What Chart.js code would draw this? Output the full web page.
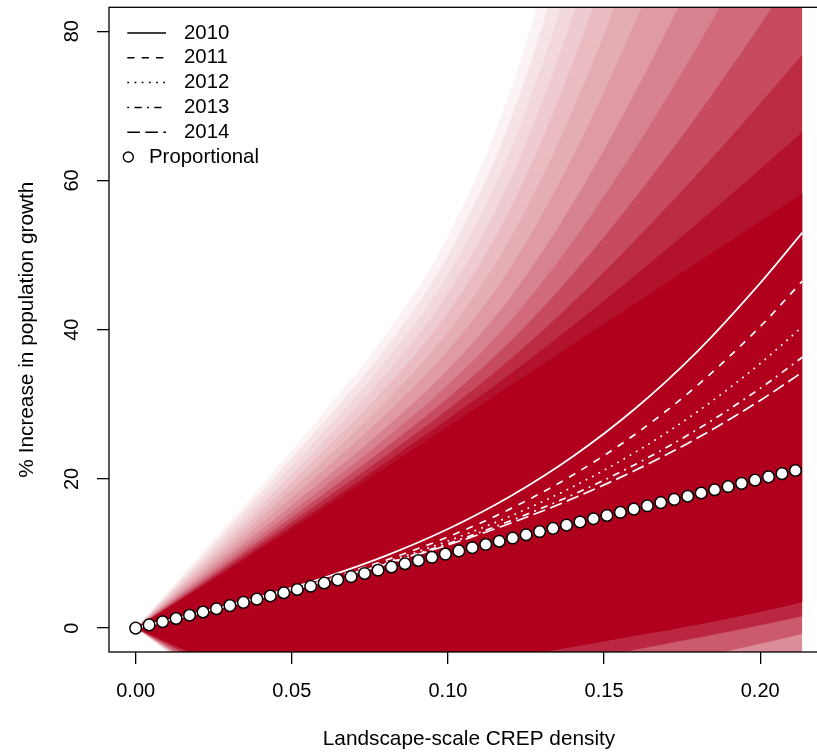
<!DOCTYPE html>
<html>
<head>
<meta charset="utf-8">
<script src="https://cdn.jsdelivr.net/npm/chart.js@4"></script>
<style>
  html, body { margin: 0; padding: 0; overflow: hidden; background: #fff; }
  canvas { display: block; }
</style>
</head>
<body>
<canvas id="crep" width="840" height="753"></canvas>
<script>
// ---- data -------------------------------------------------------------
// CREP density values at which the curves are evaluated
const densityGrid = [0, 0.02, 0.04, 0.06, 0.08, 0.10, 0.12, 0.14, 0.16, 0.18, 0.20, 0.2135];

// year-specific predicted % increase in population growth
const years = ['2010', '2011', '2012', '2013', '2014'];
const growth2010 = [0, 2.03, 4.21, 6.71, 9.68, 13.28, 17.67, 23.0, 29.43, 37.13, 46.24, 53.0];
const growth2011 = [0, 2.01, 4.12, 6.43, 9.09, 12.22, 15.98, 20.52, 25.99, 32.57, 40.41, 46.5];
const growth2012 = [0, 2.01, 4.09, 6.33, 8.82, 11.68, 15.01, 18.94, 23.57, 29.03, 35.46, 40.4];
const growth2013 = [0, 2.01, 4.07, 6.26, 8.65, 11.32, 14.37, 17.88, 21.94, 26.66, 32.13, 36.3];
const growth2014 = [0, 2.01, 4.06, 6.22, 8.56, 11.14, 14.05, 17.36, 21.15, 25.5, 30.51, 34.3];

// proportional-response reference points
const propDensity = [0, 0.00431, 0.00862, 0.01294, 0.01725, 0.02156, 0.02587, 0.03018, 0.0345, 0.03881,
  0.04312, 0.04743, 0.05174, 0.05606, 0.06037, 0.06468, 0.06899, 0.0733, 0.07762, 0.08193,
  0.08624, 0.09055, 0.09486, 0.09918, 0.10349, 0.1078, 0.11211, 0.11642, 0.12074, 0.12505,
  0.12936, 0.13367, 0.13798, 0.1423, 0.14661, 0.15092, 0.15523, 0.15954, 0.16386, 0.16817,
  0.17248, 0.17679, 0.1811, 0.18542, 0.18973, 0.19404, 0.19835, 0.20266, 0.20698, 0.21129];
const propGrowth = [0, 0.43, 0.86, 1.29, 1.73, 2.16, 2.59, 3.02, 3.45, 3.88,
  4.31, 4.74, 5.17, 5.61, 6.04, 6.47, 6.9, 7.33, 7.76, 8.19,
  8.62, 9.06, 9.49, 9.92, 10.35, 10.78, 11.21, 11.64, 12.07, 12.51,
  12.94, 13.37, 13.8, 14.23, 14.66, 15.09, 15.52, 15.95, 16.39, 16.82,
  17.25, 17.68, 18.11, 18.54, 18.97, 19.4, 19.84, 20.27, 20.7, 21.13];

// posterior draws summarised as density contours, from the sparse outer
// edge of the upper tail inwards
const fanUpper00 = [0, 9.5, 19, 28.8, 39.3, 52.5, 72, 101, 138, 181, 230, 266];
const fanUpper01 = [0, 9.07, 18.16, 27.52, 37.52, 49.95, 68.05, 94.7, 128.55, 167.8, 212.45, 245.2];
const fanUpper02 = [0, 8.64, 17.32, 26.24, 35.74, 47.4, 64.1, 88.4, 119.1, 154.6, 194.9, 224.4];
const fanUpper03 = [0, 8.21, 16.48, 24.96, 33.96, 44.85, 60.15, 82.1, 109.65, 141.4, 177.35, 203.7];
const fanUpper04 = [0, 7.78, 15.64, 23.68, 32.18, 42.3, 56.2, 75.8, 100.2, 128.2, 159.8, 182.9];
const fanUpper05 = [0, 7.35, 14.8, 22.4, 30.4, 39.75, 52.25, 69.5, 90.75, 115, 142.25, 162.1];
const fanUpper06 = [0, 6.92, 13.96, 21.12, 28.62, 37.2, 48.3, 63.2, 81.3, 101.8, 124.7, 141.3];
const fanUpper07 = [0, 6.49, 13.12, 19.84, 26.84, 34.65, 44.35, 56.9, 71.85, 88.6, 107.15, 120.5];
const fanUpper08 = [0, 6.15, 12.45, 18.82, 25.42, 32.61, 41.19, 51.86, 64.29, 78.04, 93.11, 103.9];
const fanUpper09 = [0, 5.85, 11.86, 17.92, 24.17, 30.83, 38.43, 47.45, 57.68, 68.8, 80.83, 89.4];
const fanUpper10 = [0, 5.59, 11.36, 17.15, 23.1, 29.3, 36.06, 43.67, 52.01, 60.88, 70.3, 76.9];
const fanUpper11 = [0, 5.37, 10.94, 16.51, 22.21, 28.02, 34.08, 40.52, 47.28, 54.28, 61.52, 66.5];
// dense core of the draws
const fanCoreHigh = [0, 5.2, 10.6, 16, 21.5, 27, 32.5, 38, 43.5, 49, 54.5, 58.2];
const fanCoreLow = [0, -3.6, -6, -6.2, -5.8, -5.0, -3.8, -2.5, -1.0, 0.5, 2.2, 3.5];
// lower tail, inner to outer
const fanLower1 = [0, -4.2, -7.4, -8, -7.8, -7, -5.8, -4.4, -2.9, -1.3, 0.4, 1.6];
const fanLower2 = [0, -4.8, -8.8, -10.5, -10.5, -9.8, -8.6, -7.2, -5.6, -3.9, -2.1, -0.8];
const fanLower3 = [0, -5.4, -10.5, -14, -14.5, -14, -13, -11.6, -10, -8.2, -6.2, -4.8];
const fanLower4 = [0, -6.2, -13, -18, -19, -19, -18, -17, -15.5, -14, -12, -10.5];

// ---- styling ----------------------------------------------------------
const FONT = '"Liberation Sans", Arial, Helvetica, sans-serif';
const RED = [176, 0, 30];
const yearDash = [[], [7.2, 7.2], [1.8, 5.4], [1.8, 5.4, 7.2, 5.4], [12.6, 5.4]];
// stacked layer opacities (one hue, so overlapping layers build up towards the core)
const upperLayerAlpha = [0.05, 0.063, 0.056, 0.06, 0.076, 0.082, 0.119, 0.153, 0.2, 0.3, 0.429, 0.625];
const lowerLayerAlpha = [0.57, 0.36, 0.31, 0.2];

Chart.defaults.font.family = FONT;
Chart.defaults.color = '#000';

const pts = (xs, ys) => xs.map((x, i) => ({ x, y: ys[i] }));
const red = a => `rgba(${RED[0]},${RED[1]},${RED[2]},${a})`;

const datasets = [];

// proportional points on top
datasets.push({
  label: 'Proportional',
  data: pts(propDensity, propGrowth),
  showLine: false,
  pointRadius: 5.8,
  pointBorderWidth: 1.5,
  pointBackgroundColor: '#fff',
  pointBorderColor: '#000',
  order: 0
});

// year curves
const yearSeries = [growth2010, growth2011, growth2012, growth2013, growth2014];
yearSeries.forEach((ys, i) => {
  datasets.push({
    label: years[i],
    data: pts(densityGrid, ys),
    borderColor: '#fff',
    borderWidth: 1.7,
    borderDash: yearDash[i],
    pointRadius: 0,
    fill: false,
    cubicInterpolationMode: 'monotone',
    order: 1
  });
});

// envelope layers
const envelope = (ys, fill, alpha) => ({
  label: '',
  data: pts(densityGrid, ys),
  borderWidth: 0,
  borderColor: 'rgba(0,0,0,0)',
  pointRadius: 0,
  cubicInterpolationMode: 'monotone',
  fill: fill,
  backgroundColor: red(alpha),
  order: 5
});

const coreLowIndex = datasets.length;
datasets.push(envelope(fanCoreLow, false, 0));
const coreHighIndex = datasets.length;
datasets.push(envelope(fanCoreHigh, { target: coreLowIndex }, 1));

[fanUpper00, fanUpper01, fanUpper02, fanUpper03, fanUpper04, fanUpper05,
 fanUpper06, fanUpper07, fanUpper08, fanUpper09, fanUpper10, fanUpper11].forEach((ys, i) => {
  datasets.push(envelope(ys, { target: coreLowIndex }, upperLayerAlpha[i]));
});
[fanLower1, fanLower2, fanLower3, fanLower4].forEach((ys, i) => {
  datasets.push(envelope(ys, { target: coreHighIndex }, lowerLayerAlpha[i]));
});

// ---- plugins: frame, rotated y labels, key ----------------------------
const framePlugin = {
  id: 'frame',
  afterDraw(chart) {
    const { ctx, chartArea: a } = chart;
    ctx.save();
    ctx.strokeStyle = '#000';
    ctx.lineWidth = 1.3;
    ctx.strokeRect(a.left, a.top, a.right - a.left, a.bottom - a.top);
    ctx.restore();
  }
};

const yLabelPlugin = {
  id: 'yLabels',
  afterDraw(chart) {
    const { ctx } = chart;
    const scale = chart.scales.y;
    ctx.save();
    ctx.font = `20px ${FONT}`;
    ctx.fillStyle = '#000';
    ctx.textAlign = 'center';
    ctx.textBaseline = 'middle';
    scale.ticks.forEach(t => {
      const py = scale.getPixelForValue(t.value);
      ctx.save();
      ctx.translate(72, py);
      ctx.rotate(-Math.PI / 2);
      ctx.fillText(String(t.value), 0, 0);
      ctx.restore();
    });
    ctx.restore();
  }
};

const keyPlugin = {
  id: 'yearKey',
  afterDraw(chart) {
    const { ctx, chartArea: a } = chart;
    const x0 = a.left + 18.3, x1 = a.left + 57, tx = a.left + 75;
    const rowY = i => a.top + 25.7 + i * 24.8;
    ctx.save();
    ctx.font = `20.4px ${FONT}`;
    ctx.textBaseline = 'middle';
    ctx.fillStyle = '#000';
    ctx.strokeStyle = '#000';
    ctx.lineWidth = 1.5;
    years.forEach((yr, i) => {
      const y = rowY(i);
      ctx.beginPath();
      ctx.setLineDash(yearDash[i]);
      ctx.moveTo(x0, y);
      ctx.lineTo(x1, y);
      ctx.stroke();
      ctx.setLineDash([]);
      ctx.fillText(yr, tx, y);
    });
    const yp = rowY(5);
    ctx.beginPath();
    ctx.arc(a.left + 19.3, yp, 5, 0, Math.PI * 2);
    ctx.fillStyle = '#fff';
    ctx.fill();
    ctx.lineWidth = 1.4;
    ctx.stroke();
    ctx.fillStyle = '#000';
    ctx.fillText('Proportional', a.left + 40, yp);
    ctx.restore();
  }
};

// ---- chart ------------------------------------------------------------
new Chart(document.getElementById('crep'), {
  type: 'line',
  data: { datasets },
  plugins: [framePlugin, yLabelPlugin, keyPlugin],
  options: {
    responsive: false,
    animation: false,
    events: [],
    layout: { padding: { top: 7, right: 11, bottom: 0, left: 0 } },
    plugins: {
      legend: { display: false },
      tooltip: { enabled: false },
      filler: { propagate: false }
    },
    scales: {
      x: {
        type: 'linear',
        min: -0.00854,
        max: 0.22204,
        border: { display: false },
        grid: { drawOnChartArea: false, drawTicks: true, tickLength: 12, color: '#000', lineWidth: 1.3 },
        ticks: {
          stepSize: 0.05,
          includeBounds: false,
          autoSkip: false,
          maxRotation: 0,
          padding: 15,
          font: { size: 20 },
          color: '#000',
          callback: v => Number(v).toFixed(2)
        },
        title: {
          display: true,
          text: 'Landscape-scale CREP density',
          font: { size: 20.8 },
          color: '#000',
          padding: { top: 0, bottom: 1 }
        },
        afterFit: s => { s.height = 101; }
      },
      y: {
        type: 'linear',
        min: -3.2,
        max: 83.2,
        border: { display: false },
        grid: { drawOnChartArea: false, drawTicks: true, tickLength: 12, color: '#000', lineWidth: 1.3 },
        ticks: { stepSize: 20, includeBounds: false, display: false },
        title: {
          display: true,
          text: '% Increase in population growth',
          font: { size: 20.8 },
          color: '#000',
          padding: { top: 15, bottom: 0 }
        },
        afterFit: s => { s.width = 109; }
      }
    }
  }
});
</script>
</body>
</html>
